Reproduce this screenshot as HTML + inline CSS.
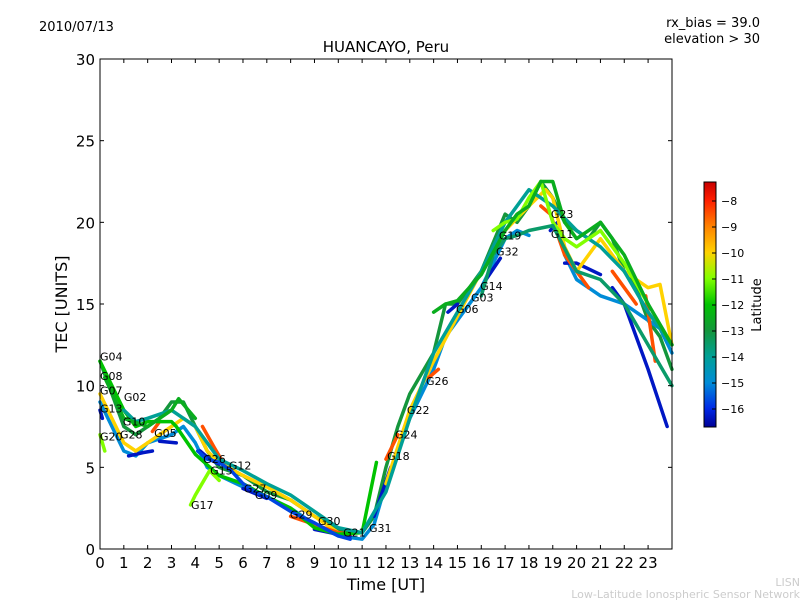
<!DOCTYPE html>
<html><head><meta charset="utf-8"><style>
body{margin:0;background:#fff;width:800px;height:600px;overflow:hidden}
svg text{font-family:"DejaVu Sans","Liberation Sans",sans-serif}
</style></head><body>
<svg id="chart" width="800" height="600" xmlns="http://www.w3.org/2000/svg">
<text x="39" y="31" font-size="13">2010/07/13</text>
<text x="760" y="27" font-size="13" text-anchor="end">rx_bias = 39.0</text>
<text x="760" y="43" font-size="13" text-anchor="end">elevation &gt; 30</text>
<text x="386" y="52" font-size="15" text-anchor="middle">HUANCAYO, Peru</text>
<text x="386" y="590" font-size="16" text-anchor="middle">Time [UT]</text>
<text x="67" y="304" font-size="16" text-anchor="middle" transform="rotate(-90 67 304)">TEC [UNITS]</text>
<text x="761" y="305" font-size="13" text-anchor="middle" transform="rotate(-90 761 305)">Latitude</text>
<text x="800" y="586" font-size="11" fill="#ccc" text-anchor="end">LISN</text>
<text x="800" y="598" font-size="11" fill="#ccc" text-anchor="end">Low-Latitude Ionospheric Sensor Network</text>
<g id="traces"></g>
<g id="labels"></g>
<g id="axes"></g>
<defs><linearGradient id="cmap" x1="0" y1="1" x2="0" y2="0"></linearGradient></defs>
<rect x="704" y="182" width="12" height="245" fill="url(#cmap)" stroke="#000"/>
<g id="cbticks"></g>
</svg>
<script>
const xTicks=[0,1,2,3,4,5,6,7,8,9,10,11,12,13,14,15,16,17,18,19,20,21,22,23];
const yTicks=[0,5,10,15,20,25,30];
const cbTicks=[-8,-9,-10,-11,-12,-13,-14,-15,-16];
const traceLats=[-13,-15,-16.3,-10,-8.5,-12,-14,-11,-15.7,-13.5,-12.5];
const traceTimes=[
[0,0.5,1,1.5,2,2.5,3,3.5,4,4.5,5,6,7,8,9,10,11,11.5,12,12.5,13,14,14.5,15,16,17,17.5,18,18.5,19,19.5,20,20.5,21,21.5,22,22.5,23,23.5,24],
[0,0.5,1,1.5,2,3,3.5,4,4.5,5,6,7,8,9,10,11,11.5,12,13,14,14.5,15,16,17,17.5,18,null,19.5,20,21,22,23,23.5,24],
[0,0.1,null,1.2,1.8,2.2,null,2.5,3.2,null,4.2,4.6,5,null,6,7,null,9,10,10.5,null,11.5,12.2,null,14.6,15,null,16.2,16.8,null,18.9,19.2,null,19.5,20,21,null,21.5,22,23,23.8],
[0,0.5,1,1.5,2,2.5,3,3.5,4,4.5,5,6,7,8,9,10,null,12,13,14,16,17,18,18.7,19,19.5,20,21,22,23,23.5,24],
[2.2,2.5,null,4.3,4.8,5.2,null,8,9,10,10.5,null,12,12.5,null,13.8,14.2,null,18.5,18.9,19.5,20.5,null,21.5,22.5,null,22.9,23.3],
[0,1,1.5,2,3,3.2,4,5,6,7,8,9,10,11,11.6],
[1,1.5,2,3,4,5,6,7,8,9,10,11,12,13,14,15,16,17,18,19,20,21,22,23,24],
[0,0.2,null,3.8,4,4.2,4.6,5,null,16.5,17,17.5,18,18.5,19,19.5,20,21,22,23],
[4.1,4.5,5,5.5,6,6.5,7,8,9,10,10.5],
[16,16.5,17,17.5,18,19,20,21,22,23,24],
[0.2,1,2,3,3.3,4,null,14,14.5,15,16,17,17.5,18,18.5,19,19.5,20,20.5,21,22,23,24]];
const traceTec=[
[11.5,9.5,7.5,7,7.5,8,9,9,7.5,6,5,4.5,3.5,3,2,1.2,1,2,5,7.5,9.5,12,15,15,17,20.5,20,21,22.5,21.5,20,19.5,19,20,19,17,16,14,13,11],
[9,7.5,6,5.7,6.5,7,7.5,6.5,5,4.5,3.8,3.2,2.5,1.5,0.8,0.6,1.5,4,8,11,13,14,16,19,19.5,19.2,null,18,16.5,15.5,15,14,13.5,12],
[8.5,8,null,5.7,5.9,6,null,6.6,6.5,null,6,5.5,5.2,null,3.7,3.1,null,1.2,0.9,0.8,null,2,5,null,14.5,15,null,16.5,17.8,null,19.5,20,null,17.5,17.5,16.8,null,16,15,11,7.5],
[9.5,8,6.5,6,6.5,7,7.5,8,7.5,6,5.3,4.5,3.8,3,2,1,null,4,8.5,11.5,17,19.5,21,22,21.5,18.5,17,19,17,16,16.2,12.5],
[7.2,7.8,null,7.5,6.2,5.2,null,2,1.5,1,0.9,null,5.5,7,null,10.5,11,null,21,20.5,18,16,null,17,15,null,15.5,11.5],
[11.5,8.5,7.5,7.8,7.8,7.5,5.8,4.5,4,3.2,2.5,1.3,0.9,1,5.3],
[8.5,7.8,8,8.5,7.5,5.5,4.8,4,3.3,2.3,1.3,1,3.5,8,12,14.5,17,20,22,21,19.5,18.5,17,14.5,12.5],
[7,6,null,2.7,3.3,3.8,4.8,4.2,null,19.5,20,20.2,21.5,22.5,20,19,18.5,19.5,17.5,15],
[6,5.5,5.3,4.8,4,3.5,3.2,2.3,1.6,0.8,0.6],
[15.5,18,19,19.2,19.5,19.8,17,16.5,15,12.5,10],
[10.5,8,7.5,8.5,9.2,8,null,14.5,15,15.2,16.8,19.5,20.5,21,22.5,22.5,20,19,19.5,20,18,15,12.5]];
const labelNames=["G04","G08","G07","G02","G13","G10","G20","G28","G05","G26","G15","G12","G27","G09","G17","G29","G30","G21","G31","G18","G24","G22","G26","G06","G03","G14","G32","G19","G23","G11"];
const labelT=[0,0,0,1,0,0.96,0,0.84,2.27,4.33,4.62,5.41,6.04,6.5,3.82,7.97,9.15,10.2,11.29,12.05,12.38,12.88,13.68,14.94,15.57,15.95,16.62,16.74,18.92,18.92];
const labelV=[11.8,10.6,9.7,9.3,8.6,7.8,6.9,7.0,7.1,5.5,4.8,5.1,3.7,3.3,2.7,2.1,1.7,1.0,1.3,5.7,7.0,8.5,10.3,14.7,15.4,16.1,18.2,19.2,20.5,19.3];
const X=t=>100+t*23.83, Y=v=>549-v*16.333;
const ns="http://www.w3.org/2000/svg";
const cmLat=[-16.7,-16,-15,-14,-13,-12,-11,-10,-9,-8,-7.3];
const cmCol=[[0,0,150],[0,40,230],[0,140,215],[0,160,150],[20,150,60],[0,195,0],[130,255,0],[255,210,0],[255,130,0],[255,30,0],[200,0,0]];
function cmap(lat){for(let i=0;i<cmLat.length-1;i++){if(lat<=cmLat[i+1]||i==cmLat.length-2){let f=Math.max(0,Math.min(1,(lat-cmLat[i])/(cmLat[i+1]-cmLat[i])));
 const c=cmCol[i].map((v,k)=>Math.round(v+(cmCol[i+1][k]-v)*f));return `rgb(${c})`;}}}
const grad=document.getElementById('cmap');
cmLat.forEach((l,i)=>{const s=document.createElementNS(ns,'stop');s.setAttribute('offset',(l+16.7)/9.4);s.setAttribute('stop-color',`rgb(${cmCol[i]})`);grad.appendChild(s);});
const tg=document.getElementById('traces');
traceTimes.forEach((ts,i)=>{let segs=[[]];ts.forEach((t,j)=>{const v=traceTec[i][j];if(t===null||v===null){segs.push([]);}else segs[segs.length-1].push(X(t)+','+Y(v));});
 segs.filter(s=>s.length>1).forEach(s=>{const p=document.createElementNS(ns,'polyline');
 
 
 p.setAttribute('points',s.join(' '));
 p.setAttribute('fill','none');p.setAttribute('stroke',cmap(traceLats[i]));p.setAttribute('stroke-width','3.5');p.setAttribute('stroke-linejoin','round');p.setAttribute('stroke-linecap','round');tg.appendChild(p);});});
const lg=document.getElementById('labels');
labelNames.forEach((n,i)=>{const t=document.createElementNS(ns,'text');
 
 
 t.setAttribute('x',X(labelT[i]));t.setAttribute('y',Y(labelV[i])+4);t.setAttribute('font-size','11');t.textContent=n;lg.appendChild(t);});
const ag=document.getElementById('axes');
let h='<rect x="100" y="59" width="572" height="490" fill="none" stroke="#000"/>';
xTicks.forEach(t=>{h+=`<line x1="${X(t)}" y1="549" x2="${X(t)}" y2="545" stroke="#000"/><line x1="${X(t)}" y1="59" x2="${X(t)}" y2="63" stroke="#000"/><text x="${X(t)}" y="568" font-size="15" text-anchor="middle">${t}</text>`;});
yTicks.forEach(v=>{h+=`<line x1="100" y1="${Y(v)}" x2="104" y2="${Y(v)}" stroke="#000"/><line x1="672" y1="${Y(v)}" x2="668" y2="${Y(v)}" stroke="#000"/><text x="95" y="${Y(v)+6}" font-size="15" text-anchor="end">${v}</text>`;});
ag.innerHTML=h;
const cg=document.getElementById('cbticks');let c='';
cbTicks.forEach(v=>{const y=201+(-8-v)*26;c+=`<line x1="712" y1="${y}" x2="716" y2="${y}" stroke="#000"/><text x="721" y="${y+4}" font-size="11">\u2212${-v}</text>`;});
cg.innerHTML=c;
</script>
</body></html>
